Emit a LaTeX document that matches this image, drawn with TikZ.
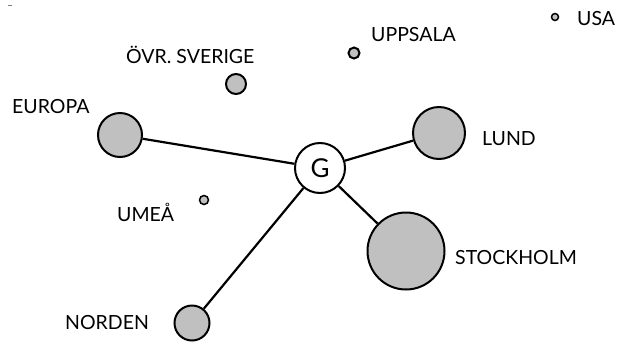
\documentclass[tikz,border=0pt]{standalone}
\usepackage{fontspec}
\setmainfont{Lato}
\begin{document}
\begin{tikzpicture}[x=1pt,y=-1pt,
  city/.style={circle,draw=black,line width=2pt,fill=cityfill,inner sep=0pt},
  lbl/.style={font=\fontsize{19.5}{22}\selectfont,inner sep=0pt},
  link/.style={line width=2.2pt}]
\definecolor{cityfill}{HTML}{C0C0C0}
\useasboundingbox (0,0) rectangle (619,341);
\draw[gray,line width=0.8pt] (8,5) -- (12,5);
\node[circle,draw=black,line width=2pt,fill=white,minimum size=50pt,inner sep=0pt,font=\fontsize{26}{28}\selectfont] (G) at (320,168) {G};
\node[city,minimum size=44pt] (eur) at (120,135) {};
\node[city,minimum size=20pt] (ovr) at (236,84) {};
\node[city,minimum size=11pt] (upp) at (354,53) {};
\node[city,minimum size=7pt,line width=1.5pt] (usa) at (555,17) {};
\node[city,minimum size=52pt] (lund) at (439,133) {};
\node[city,minimum size=77pt] (sthlm) at (406,251) {};
\node[city,minimum size=9pt,line width=1.5pt] (umea) at (204,200) {};
\node[city,minimum size=35pt] (nord) at (192,323) {};
\node[lbl,anchor=west] (leur) at (12,107) {EUROPA};
\node[lbl,anchor=west] (lovr) at (126,55) {ÖVR. SVERIGE};
\node[lbl,anchor=west] (lupp) at (371,35) {UPPSALA};
\node[lbl,anchor=west] (lusa) at (577,19) {USA};
\node[lbl,anchor=west] (llund) at (482,139) {LUND};
\node[lbl,anchor=west] (lsthlm) at (455,258) {STOCKHOLM};
\node[lbl,anchor=west] (lumea) at (117,212) {UMEÅ};
\node[lbl,anchor=west] (lnord) at (65,323) {NORDEN};
\draw[link] (G) -- (eur);
\draw[link] (G) -- (lund);
\draw[link] (G) -- (sthlm);
\draw[link] (G) -- (nord);
\end{tikzpicture}
\end{document}
